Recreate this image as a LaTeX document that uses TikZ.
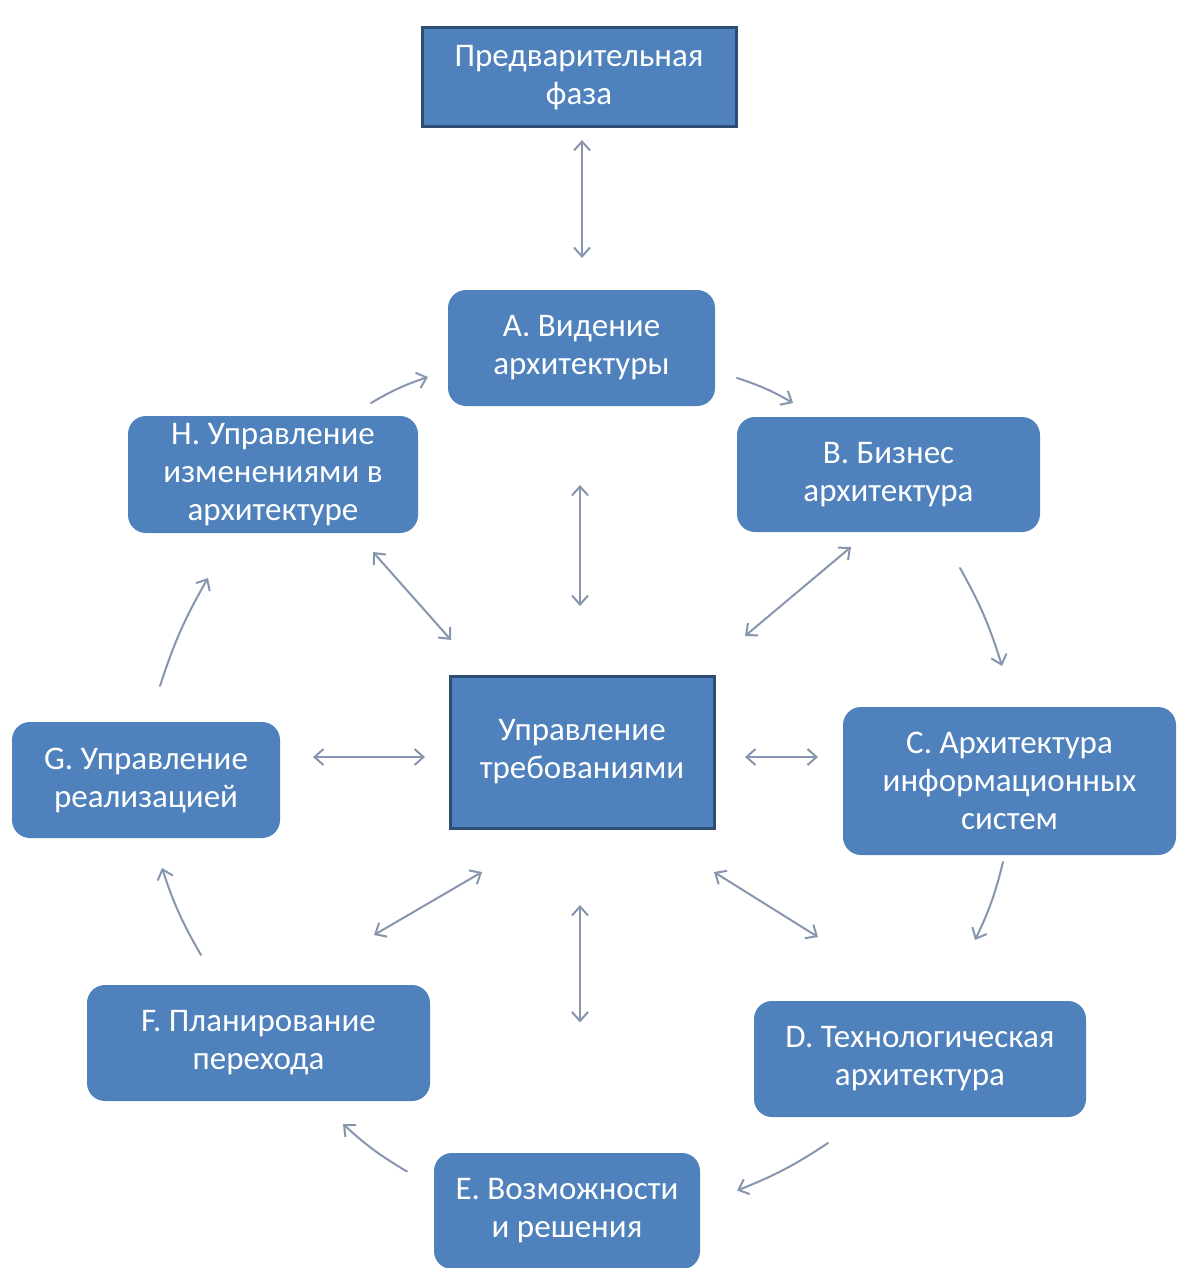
\documentclass[tikz,border=0pt]{standalone}
\usepackage{fontspec}
\setmainfont{Carlito}
\usetikzlibrary{arrows.meta}
\definecolor{boxblue}{HTML}{4F81BD}
\definecolor{boxedge}{HTML}{2E4D73}
\definecolor{arrowgray}{HTML}{8796AE}
\tikzset{
  phase/.style={fill=boxblue, rounded corners=18pt, text=white, align=center,
    font=\fontsize{33}{38}\selectfont, inner sep=0pt},
  core/.style={phase, rounded corners=0pt, draw=boxedge, line width=3pt},
  link/.style={draw=arrowgray, line width=2pt, line cap=round,
    -{Straight Barb[length=9pt,width=16pt,line width=2pt]}},
  both/.style={link, {Straight Barb[length=9pt,width=16pt,line width=2pt]}-{Straight Barb[length=9pt,width=16pt,line width=2pt]}},
  cyc/.style={link, bend left=6},
}
\begin{document}
\begin{tikzpicture}[x=1pt,y=-1pt]
\useasboundingbox (0,0) rectangle (1177,1268);
\fill[white] (0,0) rectangle (1177,1268);

% phases of the cycle
\node[core, minimum width=314pt, minimum height=99pt] (pre) at (579,77.5) {Предварительная\\фаза};
\node[phase, minimum width=267pt, minimum height=116pt] (A) at (581.5,348) {A. Видение\\архитектуры};
\node[phase, minimum width=303pt, minimum height=115pt] (B) at (888.5,474.5) {B. Бизнес\\архитектура};
\node[phase, minimum width=290pt, minimum height=117pt] (H) at (273,474.5) {H. Управление\\изменениями в\\архитектуре};
\node[core, minimum width=264pt, minimum height=152pt] (M) at (582,752) {Управление\\требованиями};
\node[phase, minimum width=268pt, minimum height=116pt] (G) at (146,780) {G. Управление\\реализацией};
\node[phase, minimum width=333pt, minimum height=148pt] (C) at (1009.5,781) {C. Архитектура\\информационных\\систем};
\node[phase, minimum width=343pt, minimum height=116pt] (F) at (258.5,1043) {F. Планирование\\перехода};
\node[phase, minimum width=332pt, minimum height=116pt] (D) at (920,1059) {D. Технологическая\\архитектура};
\node[phase, minimum width=266pt, minimum height=116pt] (E) at (567,1211) {E. Возможности\\и решения};

% links to the requirements hub and the preliminary phase
\draw[both] ([shift={(3,62.5)}]pre.center) -- ([shift={(0.5,-90)}]A.center);
\draw[both] ([shift={(-1.5,137)}]A.center) -- ([shift={(-2,-146)}]M.center);
\draw[both] ([shift={(100,77.5)}]H.center) -- ([shift={(-131,-112)}]M.center);
\draw[both] ([shift={(-37.5,72.5)}]B.center) -- ([shift={(163,-116)}]M.center);
\draw[both] ([shift={(167,-23)}]G.center) -- ([shift={(-157,5)}]M.center);
\draw[both] ([shift={(163,5)}]M.center) -- ([shift={(-191.5,-24)}]C.center);
\draw[both] ([shift={(132,120)}]M.center) -- ([shift={(-102,-122)}]D.center);
\draw[both] ([shift={(-100,120)}]M.center) -- ([shift={(115.5,-108)}]F.center);
\draw[both] ([shift={(-2,153)}]M.center) -- ([shift={(13,-188.5)}]E.center);

% clockwise cycle
\draw[cyc] ([shift={(155.5,30)}]A.center) to ([shift={(-95.5,-71.5)}]B.center);
\draw[cyc] ([shift={(71.5,93.5)}]B.center) to ([shift={(-7.5,-115)}]C.center);
\draw[cyc] ([shift={(-6.5,81)}]C.center) to ([shift={(55,-119)}]D.center);
\draw[cyc] ([shift={(-92,84)}]D.center) to ([shift={(170,-20.5)}]E.center);
\draw[cyc] ([shift={(-160,-39.5)}]E.center) to ([shift={(84.5,81)}]F.center);
\draw[cyc] ([shift={(-57.5,-88)}]F.center) to ([shift={(16,88)}]G.center);
\draw[cyc] ([shift={(14,-94)}]G.center) to ([shift={(-65,103.5)}]H.center);
\draw[cyc] ([shift={(98,-71.5)}]H.center) to ([shift={(-153.5,29)}]A.center);
\end{tikzpicture}
\end{document}
